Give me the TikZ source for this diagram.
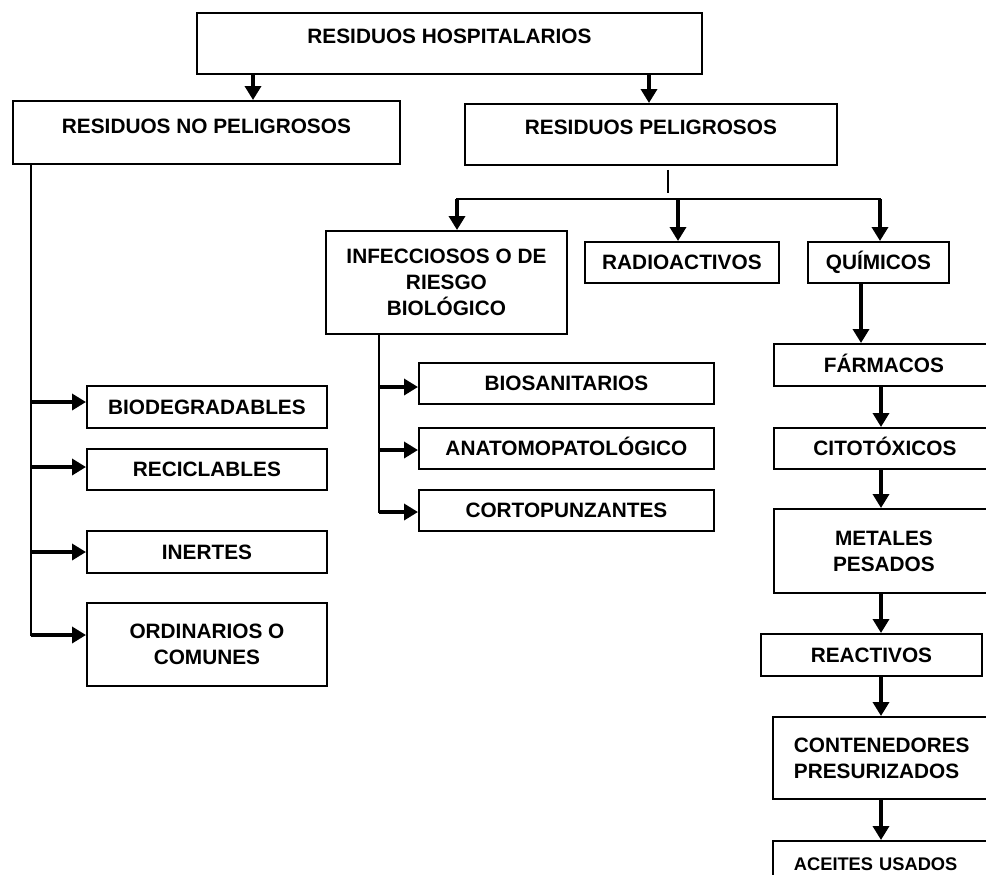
\documentclass[tikz,border=0pt]{standalone}
\usepackage{fontspec}
\setmainfont{Liberation Sans}
\usetikzlibrary{arrows.meta,positioning,calc}

\begin{document}
\begin{tikzpicture}[x=0.75pt,y=-0.75pt,
  box/.style={draw,line width=1.4pt,inner sep=0pt,anchor=north west,align=center,
    font=\bfseries\fontsize{15.6}{19.5}\selectfont},
  oneline/.style={text height=11pt,text depth=#1},
  oneline/.default=0pt,
  sz/.style 2 args={minimum width=#1*0.75pt,minimum height=#2*0.75pt},
  lft/.style={align=left,text width=135pt,inner xsep=15.75pt},
  arr/.style={line width=2.6pt,-{Triangle[length=10.5pt,width=12pt]}},
  trunk/.style={line width=1.7pt,line cap=rect},
  thinln/.style={line width=0.8pt}]

% Frame
\path[use as bounding box] (0,0) rectangle (986,875);
\clip (0,0) rectangle (986,875);

% Top levels
\node[box,oneline=11.25pt,sz={505}{61}] (hosp) at (196,12) {RESIDUOS HOSPITALARIOS};
\node[box,oneline=9.75pt,sz={387}{63}] (nopel) at (12,100) {RESIDUOS NO PELIGROSOS};
\node[box,oneline=10.5pt,sz={372}{61}] (pel) at (464,103) {RESIDUOS PELIGROSOS};

% Dangerous branch
\node[box,sz={241}{103}] (infec) at (325,230) {INFECCIOSOS O DE\\RIESGO\\BIOLÓGICO};
\node[box,oneline,sz={194}{41}] (radio) at (584,241) {RADIOACTIVOS};
\node[box,oneline,sz={141}{41}] (quim) at (807,241) {QUÍMICOS};

% Chemical column
\node[box,oneline,sz={220}{42}] (farm) at (773,343) {FÁRMACOS};
\node[box,oneline,sz={222}{41}] (cito) at (773,427) {CITOTÓXICOS};
\node[box,sz={220}{84}] (metal) at (773,508) {METALES\\PESADOS};
\node[box,oneline,sz={221}{42}] (react) at (760,633) {REACTIVOS};
\node[box,lft,sz={222}{82}] (cont) at (772,716) {CONTENEDORES\\PRESURIZADOS};
\node[box,lft,oneline,sz={222}{44},font=\bfseries\fontsize{13.7}{16}\selectfont] (aceit) at (772,840) {ACEITES USADOS};

% Infectious subitems
\node[box,oneline,sz={295}{41}] (bios) at (418,362) {BIOSANITARIOS};
\node[box,oneline,sz={295}{41}] (anat) at (418,427) {ANATOMOPATOLÓGICO};
\node[box,oneline,sz={295}{41}] (cort) at (418,489) {CORTOPUNZANTES};

% Non-dangerous subitems
\node[box,oneline,sz={240}{42}] (biod) at (86,385) {BIODEGRADABLES};
\node[box,oneline,sz={240}{41}] (recic) at (86,448) {RECICLABLES};
\node[box,oneline,sz={240}{42}] (inert) at (86,530) {INERTES};
\node[box,sz={240}{83}] (ordin) at (86,602) {ORDINARIOS O\\COMUNES};

% Branch points
\coordinate (ka) at (253,0);
\coordinate (kb) at (649,0);
\coordinate (bar1) at (457,199);
\coordinate (bar2) at (678,199);
\coordinate (bar3) at (880,199);
\coordinate (pk) at (668,193);
\coordinate (qk) at (861,0);
\coordinate (ck) at (881,0);
\coordinate (nk) at (31,635);
\coordinate (ik) at (379,512);

% Arrows from top box
\draw[arr] (hosp.south -| ka) -- (nopel.north -| ka);
\draw[arr] (hosp.south -| kb) -- (pel.north -| kb);

% Split below dangerous
\draw[thinln] ($(pel.south -| pk)+(0,4)$) -- (pk);
\draw[trunk] (bar1) -- (bar3);
\draw[arr] (bar1) -- (bar1 |- infec.north);
\draw[arr] (bar2) -- (bar2 |- radio.north);
\draw[arr] (bar3) -- (bar3 |- quim.north);

% Chemical chain
\draw[arr] (quim.south -| qk) -- (farm.north -| qk);
\foreach \a/\b in {farm/cito,cito/metal,metal/react,react/cont,cont/aceit}
    \draw[arr] (\a.south -| ck) -- (\b.north -| ck);

% Non-dangerous trunk
\draw[trunk] (nopel.south -| nk) -- (nk);
\foreach \n/\y in {biod/402,recic/467,inert/552,ordin/635}
    \draw[arr] (nk |- 0,\y) -- (\n.west |- 0,\y);

% Infectious trunk
\draw[trunk] (infec.south -| ik) -- (ik);
\foreach \n/\y in {bios/387,anat/450,cort/512}
    \draw[arr] (ik |- 0,\y) -- (\n.west |- 0,\y);
\end{tikzpicture}
\end{document}
